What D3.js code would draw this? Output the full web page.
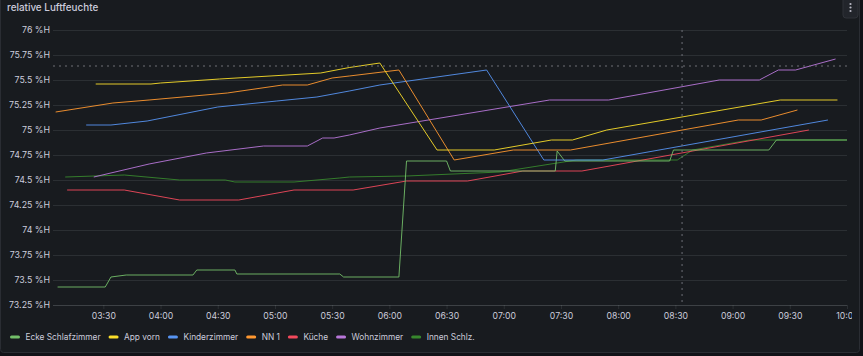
<!DOCTYPE html>
<html><head><meta charset="utf-8">
<script src="https://cdn.jsdelivr.net/npm/d3@7"></script>
<style>
html,body{margin:0;padding:0;background:#111217;}
svg{display:block;font-family:Inter,"Noto Sans",sans-serif;}
</style></head><body>
<svg id="chart" width="863" height="356"></svg>
<script>
// ---------- data ----------
const title = "relative Luftfeuchte";
const unit = "%H";
const seriesNames = ["Ecke Schlafzimmer","App vorn","Kinderzimmer","NN 1","Küche","Wohnzimmer","Innen Schlz."];
const seriesColors = ["#73BF69","#FADE2A","#5794F2","#FF9830","#F2495C","#B877D9","#37872D"];

const eckeSchlafzimmer = [["03:06",73.43],["03:31",73.43],["03:34",73.53],["03:42",73.55],["04:17",73.55],["04:19",73.60],["04:39",73.60],["04:40",73.56],["05:34",73.56],["05:36",73.53],["06:05",73.53],["06:09",74.69],["06:30",74.69],["06:32",74.59],["07:27",74.59],["07:28",74.79],["07:32",74.69],["08:27",74.69],["08:29",74.80],["09:19",74.80],["09:23",74.90],["10:00",74.90]];
const appVorn = [["03:26",75.46],["03:55",75.46],["04:00",75.47],["04:31",75.51],["05:24",75.57],["05:39",75.625],["05:55",75.67],["06:25",74.80],["06:55",74.80],["07:25",74.90],["07:36",74.90],["07:54",75.00],["09:25",75.30],["09:55",75.30]];
const kinderzimmer = [["03:21",75.05],["03:34",75.05],["03:53",75.09],["04:30",75.23],["05:01",75.29],["05:22",75.33],["05:39",75.39],["05:55",75.45],["06:51",75.60],["07:21",74.70],["07:52",74.70],["09:50",75.10]];
const nn1 = [["03:05",75.18],["03:35",75.27],["03:54",75.30],["04:35",75.37],["05:04",75.45],["05:17",75.45],["05:30",75.52],["05:39",75.54],["06:05",75.60],["06:34",74.70],["07:05",74.80],["07:35",74.80],["09:03",75.10],["09:15",75.10],["09:34",75.20]];
const kueche = [["03:11",74.40],["03:41",74.40],["04:10",74.30],["04:41",74.30],["05:10",74.40],["05:41",74.40],["06:09",74.49],["06:41",74.49],["07:10",74.59],["07:41",74.59],["09:40",75.00]];
const wohnzimmer = [["03:25",74.53],["03:54",74.66],["04:24",74.77],["04:54",74.84],["05:17",74.84],["05:25",74.92],["05:31",74.92],["05:39",74.95],["05:55",75.02],["07:24",75.30],["07:55",75.30],["08:53",75.50],["09:14",75.50],["09:24",75.60],["09:33",75.60],["09:54",75.71]];
const innenSchlz = [["03:10",74.53],["03:41",74.55],["04:10",74.50],["04:34",74.50],["04:39",74.48],["05:10",74.48],["05:34",74.52],["05:39",74.53],["06:09",74.54],["06:58",74.58],["07:38",74.70],["08:31",74.70],["08:39",74.80],["09:09",74.90],["10:00",74.90]];
const seriesData = [eckeSchlafzimmer, appVorn, kinderzimmer, nn1, kueche, wohnzimmer, innenSchlz];

const timeDomain = ["03:03:36","10:00:00"];
const yTicks = [73.25,73.5,73.75,74,74.25,74.5,74.75,75,75.25,75.5,75.75,76];
const cursorTime = "08:33:30";
const cursorValue = 75.64;

// ---------- drawing ----------
const svg = d3.select("#chart");
const W = 863, H = 356;
const m = {left:53, right:847, top:30, bottom:305};
const pT = d3.timeParse("%H:%M");
const pTs = d3.timeParse("%H:%M:%S");

// panel
svg.append("rect").attr("x",0.5).attr("y",-10).attr("width",859).attr("height",362.5)
  .attr("rx",3).attr("fill","#181b1f").attr("stroke","#2a2d33");
svg.append("text").attr("x",7).attr("y",10.8).attr("fill","#ccccdc")
  .attr("font-size","9.9px").attr("font-weight",500).text(title);
// menu
svg.append("rect").attr("x",843).attr("y",-4).attr("width",15).attr("height",22).attr("rx",3)
  .attr("fill","#22252b").attr("stroke","#2f3238");
[4,7.5,11].forEach(cy=>svg.append("circle").attr("cx",850.5).attr("cy",cy).attr("r",1.1).attr("fill","#b8b9c4"));

const x = d3.scaleTime().domain(timeDomain.map(pTs)).range([m.left, m.right]);
const y = d3.scaleLinear().domain([d3.min(yTicks), d3.max(yTicks)]).range([m.bottom, m.top]);

const gridColor = "rgba(240,250,255,0.09)";
// horizontal grid + y labels
const yAxis = d3.axisLeft(y).tickValues(yTicks).tickSize(-(m.right-m.left)).tickPadding(3)
  .tickFormat(d=>d3.format("~f")(d)+" "+unit);
const gy = svg.append("g").attr("transform",`translate(${m.left},0)`).call(yAxis);
gy.select(".domain").remove();
gy.selectAll(".tick line").attr("stroke",gridColor).attr("shape-rendering","crispEdges");
gy.selectAll(".tick text").attr("fill","#ccccdc").attr("font-size","8.8px").attr("font-family","Inter,sans-serif");

// vertical grid + x labels
svg.append("defs").append("clipPath").attr("id","xclip").append("rect").attr("x",0).attr("y",0).attr("width",852).attr("height",H);
const xAxis = d3.axisBottom(x).ticks(d3.timeMinute.every(30)).tickSize(-(m.bottom-m.top)).tickPadding(8)
  .tickFormat(d3.timeFormat("%H:%M"));
const gx = svg.append("g").attr("transform",`translate(0,${m.bottom})`).attr("clip-path","url(#xclip)").call(xAxis);
gx.select(".domain").remove();
gx.selectAll(".tick line").attr("stroke",gridColor).attr("y2",-(m.bottom-m.top)).attr("shape-rendering","crispEdges");
gx.selectAll(".tick").append("line").attr("y1",0).attr("y2",4).attr("stroke",gridColor);
gx.selectAll(".tick text").attr("fill","#ccccdc").attr("font-size","8.7px").attr("font-family","Inter,sans-serif");
svg.append("line").attr("x1",m.left).attr("x2",m.right).attr("y1",m.bottom+0.5).attr("y2",m.bottom+0.5).attr("stroke",gridColor);

// lines
const line = d3.line().x(d=>x(pT(d[0]))).y(d=>y(d[1]));
const order = [6,4,0,5,2,3,1];
order.forEach(i=>{
  svg.append("path").datum(seriesData[i]).attr("d",line).attr("fill","none")
    .attr("stroke",seriesColors[i]).attr("stroke-width",1).attr("stroke-opacity",0.9)
    .attr("stroke-linejoin","round");
});

// crosshair
const cx = x(pTs(cursorTime)), cy = y(cursorValue);
svg.append("line").attr("x1",m.left).attr("x2",m.right).attr("y1",cy).attr("y2",cy)
  .attr("stroke","#6e7077").attr("stroke-dasharray","2,4");
svg.append("line").attr("x1",cx).attr("x2",cx).attr("y1",m.top).attr("y2",m.bottom)
  .attr("stroke","#6e7077").attr("stroke-dasharray","2,4");

// legend
const lg = svg.append("g").attr("transform","translate(10,337)");
let lx = 0;
seriesNames.forEach((n,i)=>{
  lg.append("rect").attr("x",lx).attr("y",-1.5).attr("width",10).attr("height",3).attr("rx",1.5).attr("fill",seriesColors[i]);
  const t = lg.append("text").attr("x",lx+15.5).attr("y",3.1).attr("fill","#ccccdc").attr("font-size","8.3px").text(n);
  lx += 15.5 + t.node().getComputedTextLength() + 8;
});
</script>
</body></html>
